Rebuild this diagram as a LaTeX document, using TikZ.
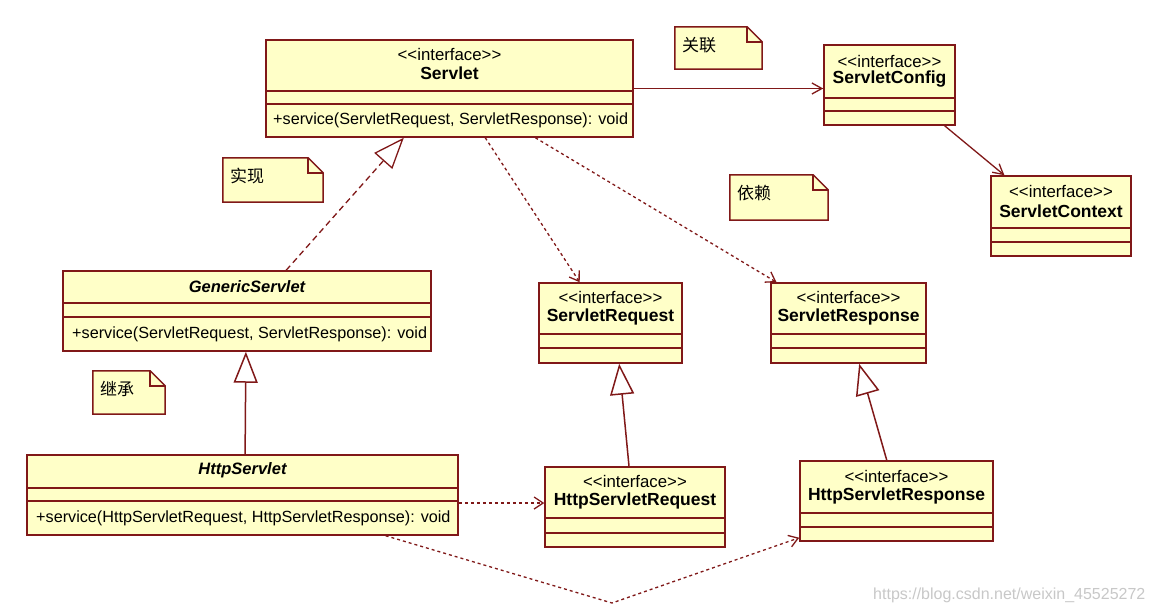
\documentclass[tikz,border=0pt]{standalone}
\usepackage{fontspec}
\setmainfont{Liberation Sans}
\newfontfamily\cjk{Noto Sans CJK SC}
\usetikzlibrary{arrows.meta,calc,fit}
\definecolor{umlfill}{RGB}{255,255,200}
\definecolor{umlline}{RGB}{128,24,24}
\definecolor{wmark}{RGB}{200,200,200}
\tikzset{
  classbox/.style={draw=umlline, fill=umlfill, line width=1.5pt, inner sep=0pt},
  sepline/.style={draw=umlline, line width=1.5pt},
  stereo/.style={font=\fontsize{16.8}{18}\selectfont, inner sep=0pt},
  cname/.style={font=\fontsize{17.5}{20}\selectfont\bfseries, inner sep=0pt},
  aname/.style={font=\fontsize{16.5}{20}\selectfont\bfseries\itshape, inner sep=0pt},
  meth/.style={font=\fontsize{16.2}{18}\selectfont, inner sep=0pt, anchor=west},
  notebox/.style={draw=umlline, fill=umlfill, line width=1.5pt},
  notetext/.style={font=\fontsize{17}{19}\selectfont\cjk, inner sep=0pt, anchor=west},
  depend/.style={draw=umlline, line width=1.3pt, dash pattern=on 3pt off 3pt,
     -{Straight Barb[length=9pt,width=12pt]}},
  assoc/.style={draw=umlline, line width=1.3pt, -{Straight Barb[length=10pt,width=11pt]}},
  realize/.style={draw=umlline, line width=1.3pt, dash pattern=on 6pt off 4pt,
     -{Triangle[length=31pt,width=24pt,fill=white]}},
  generalize/.style={draw=umlline, line width=1.5pt,
     -{Triangle[length=31pt,width=24pt,fill=white]}},
}
\newcommand\umlclass[7]{%
  \node[classbox, fit={(#2,#3) (#4,#5)}] (#1) {};
  \draw[sepline] (#1.west |- 0,#6) -- (#1.east |- 0,#6);
  \draw[sepline] (#1.west |- 0,#7) -- (#1.east |- 0,#7);
}
\newcommand\umlnote[6]{%
  \node[inner sep=0pt, fit={(#2,#3) (#4,#5)}] (#1) {};
  \filldraw[notebox] (#1.north west) -- ($(#1.north east)+(-15,0)$) -- ($(#1.north east)+(0,15)$)
     -- (#1.south east) -- (#1.south west) -- cycle;
  \draw[notebox, fill=none] ($(#1.north east)+(-15,0)$) -- ($(#1.north east)+(-15,15)$) -- ($(#1.north east)+(0,15)$);
  \node[notetext] (#1-t) at ($(#1.north west)+(7,18)$) {#6};
}
\begin{document}
\begin{tikzpicture}[x=1pt,y=-1pt]
\fill[white] (0,0) rectangle (1152,613);
\useasboundingbox (0,0) rectangle (1152,613);

% classes
\umlclass{servlet}{266}{40}{633}{137}{91}{104}
\node[stereo] (servlet-s) at ($(servlet.north)+(0,15)$) {<{}<interface>{}>};
\node[cname] (servlet-n) at ($(servlet.north)+(0,34)$) {Servlet};
\node[meth] (servlet-m) at (273,120.5) {+service(ServletRequest, ServletResponse): void};

\umlclass{config}{824}{45}{955}{125}{98}{111}
\node[stereo] (config-s) at ($(config.north)+(0,17)$) {<{}<interface>{}>};
\node[cname] (config-n) at ($(config.north)+(0,35)$) {ServletConfig};

\umlclass{context}{991}{176}{1131}{256}{228}{242}
\node[stereo] (context-s) at ($(context.north)+(0,16)$) {<{}<interface>{}>};
\node[cname] (context-n) at ($(context.north)+(0,36)$) {ServletContext};

\umlclass{generic}{63}{271}{431}{351}{303}{317}
\node[aname] (generic-n) at ($(generic.north)+(0,16)$) {GenericServlet};
\node[meth] (generic-m) at (72,334) {+service(ServletRequest, ServletResponse): void};

\umlclass{http}{27}{455}{458}{535}{488}{501}
\node[aname] (http-n) at ($(http.north)+(0,16)$) {HttpServlet};
\node[meth] (http-m) at (36,518) {+service(HttpServletRequest, HttpServletResponse): void};

\umlclass{req}{539}{283}{682}{363}{334}{348}
\node[stereo] (req-s) at ($(req.north)+(0,15)$) {<{}<interface>{}>};
\node[cname] (req-n) at ($(req.north)+(0,35)$) {ServletRequest};

\umlclass{resp}{771}{283}{926}{363}{334}{348}
\node[stereo] (resp-s) at ($(resp.north)+(0,15)$) {<{}<interface>{}>};
\node[cname] (resp-n) at ($(resp.north)+(0,35)$) {ServletResponse};

\umlclass{hreq}{545}{467}{725}{547}{518}{533}
\node[stereo] (hreq-s) at ($(hreq.north)+(0,15)$) {<{}<interface>{}>};
\node[cname] (hreq-n) at ($(hreq.north)+(0,35)$) {HttpServletRequest};

\umlclass{hresp}{800}{461}{993}{541}{513}{527}
\node[stereo] (hresp-s) at ($(hresp.north)+(0,16)$) {<{}<interface>{}>};
\node[cname] (hresp-n) at ($(hresp.north)+(0,36)$) {HttpServletResponse};

% notes
\umlnote{nassoc}{675}{27}{762}{69}{关联}
\umlnote{nreal}{223}{158}{323}{202}{实现}
\umlnote{ndep}{730}{175}{828}{220}{依赖}
\umlnote{ninh}{93}{371}{165}{414}{继承}

% connectors
\draw[assoc] (servlet.east) -- (config.west |- servlet.east);
\draw[assoc] ($(config.south west)!0.916!(config.south east)$) -- ($(context.north west)!0.1!(context.north east)$);
\draw[realize] ($(generic.north west)!0.606!(generic.north east)$) -- ($(servlet.south west)!0.376!(servlet.south east)$);
\draw[generalize] ($(http.north west)!0.506!(http.north east)$) -- ($(generic.south west)!0.497!(generic.south east)$);
\draw[generalize] ($(hreq.north west)!0.467!(hreq.north east)$) -- ($(req.south west)!0.56!(req.south east)$);
\draw[generalize] ($(hresp.north west)!0.45!(hresp.north east)$) -- ($(resp.south west)!0.568!(resp.south east)$);
\draw[depend] ($(servlet.south west)!0.597!(servlet.south east)$) -- ($(req.north west)!0.287!(req.north east)$);
\draw[depend] ($(servlet.south west)!0.733!(servlet.south east)$) -- ($(resp.north west)!0.04!(resp.north east)$);
\coordinate (hsr) at ($(http.east)+(0,8)$);
\draw[depend] (hsr) -- (hreq.west |- hsr);
\coordinate (bend) at (612,603);
\draw[depend] ($(http.south west)!0.831!(http.south east)$) -- (bend) -- ($(hresp.south west)+(0,-4)$);

% watermark
\node[font=\fontsize{16}{18}\selectfont, text=wmark, inner sep=0pt, anchor=west] (wm) at (873,595) {https://blog.csdn.net/weixin\_45525272};
\end{tikzpicture}
\end{document}
